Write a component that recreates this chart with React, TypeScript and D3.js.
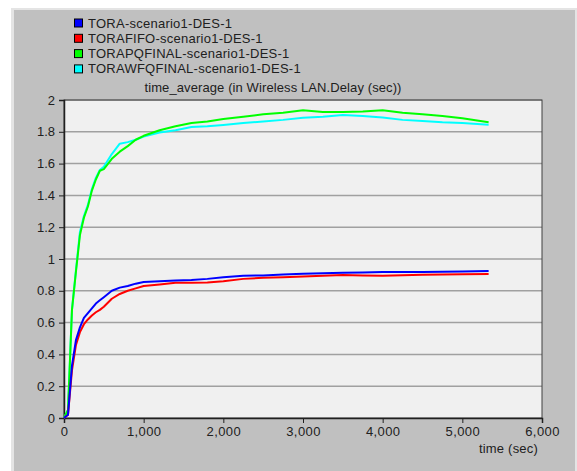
import React, { useEffect, useRef } from "react";
import * as d3 from "d3";

const times = [0, 50, 100, 150, 200, 250, 300, 350, 400, 450, 500, 600, 700, 800, 900, 1000, 1200, 1400, 1600, 1800, 2000, 2250, 2500, 2750, 3000, 3250, 3500, 3750, 4000, 4250, 4500, 4750, 5000, 5330];

const toraValues = [0, 0.02, 0.33, 0.49, 0.57, 0.63, 0.66, 0.69, 0.72, 0.74, 0.76, 0.8, 0.82, 0.83, 0.845, 0.855, 0.86, 0.865, 0.868, 0.875, 0.885, 0.895, 0.897, 0.903, 0.907, 0.91, 0.913, 0.915, 0.918, 0.918, 0.918, 0.92, 0.922, 0.925];
const fifoValues = [0, 0.02, 0.3, 0.46, 0.54, 0.59, 0.62, 0.645, 0.665, 0.68, 0.7, 0.75, 0.78, 0.8, 0.815, 0.83, 0.84, 0.85, 0.85, 0.852, 0.86, 0.875, 0.882, 0.885, 0.89, 0.895, 0.899, 0.897, 0.895, 0.898, 0.901, 0.902, 0.904, 0.906];
const pqValues = [0, 0.05, 0.68, 0.92, 1.15, 1.26, 1.33, 1.43, 1.5, 1.555, 1.565, 1.63, 1.675, 1.71, 1.75, 1.775, 1.81, 1.835, 1.855, 1.865, 1.88, 1.895, 1.91, 1.92, 1.935, 1.925, 1.925, 1.927, 1.935, 1.92, 1.91, 1.9, 1.885, 1.86];
const wfqValues = [0, 0.05, 0.68, 0.93, 1.17, 1.27, 1.34, 1.44, 1.51, 1.56, 1.58, 1.66, 1.725, 1.735, 1.75, 1.77, 1.795, 1.81, 1.83, 1.835, 1.843, 1.855, 1.865, 1.875, 1.888, 1.895, 1.905, 1.9, 1.89, 1.875, 1.868, 1.86, 1.855, 1.845];

const seriesNames = ["TORA-scenario1-DES-1", "TORAFIFO-scenario1-DES-1", "TORAPQFINAL-scenario1-DES-1", "TORAWFQFINAL-scenario1-DES-1"];
const seriesColors = ["#0000ff", "#ff0000", "#00ff00", "#00ffff"];
const seriesValues = [toraValues, fifoValues, pqValues, wfqValues];
const drawOrder = [3, 2, 1, 0];

const yTicks = [0, 0.2, 0.4, 0.6, 0.8, 1, 1.2, 1.4, 1.6, 1.8, 2];
const xTicks = [0, 1000, 2000, 3000, 4000, 5000, 6000];

const App = () => {
  const ref = useRef<SVGSVGElement>(null);
  const width = 577,
    height = 471;
  const left = 64,
    right = 542,
    top = 100,
    bottom = 418;

  useEffect(() => {
    const svg = d3.select(ref.current);
    svg.selectAll("*").remove();
    const font = "'Liberation Sans', Arial, sans-serif";

    // panel
    svg.append("rect").attr("x", 11).attr("y", 8).attr("width", width - 11).attr("height", height - 8).attr("fill", "#e4e4e4");
    svg.append("rect").attr("x", 14).attr("y", 10).attr("width", 561).attr("height", height - 10).attr("fill", "#c0c0c0");

    const x = d3.scaleLinear().domain([0, 6000]).range([left, right]);
    const y = d3.scaleLinear().domain([0, 2]).range([bottom, top]);

    svg.append("rect").attr("x", left).attr("y", top).attr("width", right - left).attr("height", bottom - top).attr("fill", "#f0f0f0");

    // grid
    svg
      .append("g")
      .selectAll("line")
      .data(yTicks.slice(1))
      .enter()
      .append("line")
      .attr("x1", left)
      .attr("x2", right)
      .attr("y1", (d) => y(d))
      .attr("y2", (d) => y(d))
      .attr("stroke", "#a0a0a0")
      .attr("stroke-width", 1.5);

    // frame
    svg.append("rect").attr("x", left).attr("y", top).attr("width", right - left).attr("height", bottom - top).attr("fill", "none").attr("stroke", "#404040").attr("stroke-width", 1);

    // y axis
    const yAxis = svg
      .append("g")
      .attr("transform", `translate(${left},0)`)
      .call(d3.axisLeft(y).tickValues(yTicks).tickSize(5).tickPadding(4).tickFormat(d3.format("~g") as any));
    yAxis.select(".domain").attr("stroke", "#202020").attr("stroke-width", 1.5);
    yAxis.selectAll(".tick line").attr("stroke", "#202020");
    yAxis.selectAll(".tick text").attr("fill", "#202020").style("font-family", font).style("font-size", "13px");

    // x axis
    const xAxis = svg
      .append("g")
      .attr("transform", `translate(0,${bottom})`)
      .call(d3.axisBottom(x).tickValues(xTicks).tickSize(5).tickPadding(4).tickFormat(d3.format(",")));
    xAxis.select(".domain").attr("stroke", "#202020").attr("stroke-width", 1.5);
    xAxis.selectAll(".tick line").attr("stroke", "#202020");
    xAxis.selectAll(".tick text").attr("fill", "#202020").style("font-family", font).style("font-size", "13px").style("letter-spacing", "0.4px");

    svg.append("text").attr("x", 538).attr("y", 453).attr("text-anchor", "end").attr("fill", "#202020").style("font-family", font).style("font-size", "13px").style("letter-spacing", "0.2px").text("time (sec)");

    svg.append("text").attr("x", 273).attr("y", 92).attr("text-anchor", "middle").attr("fill", "#202020").style("font-family", font).style("font-size", "13px").style("letter-spacing", "0.1px").text("time_average (in Wireless LAN.Delay (sec))");

    // lines
    const line = d3
      .line<number>()
      .x((d, i) => x(times[i]))
      .y((d) => y(d));
    drawOrder.forEach((s) => {
      svg
        .append("path")
        .attr("d", line(seriesValues[s]))
        .attr("fill", "none")
        .attr("stroke", seriesColors[s])
        .attr("stroke-width", 2)
        .attr("stroke-linejoin", "round");
    });

    // legend
    const legend = svg.append("g");
    seriesNames.forEach((name, i) => {
      const ly = 23 + i * 15.3;
      legend.append("rect").attr("x", 74.5).attr("y", ly - 4).attr("width", 8).attr("height", 8).attr("fill", seriesColors[i]).attr("stroke", "#000").attr("stroke-width", 1);
      legend.append("text").attr("x", 88).attr("y", ly).attr("dy", "0.35em").attr("fill", "#202020").style("font-family", font).style("font-size", "13px").style("letter-spacing", "0.25px").text(name);
    });
  }, []);

  return <svg ref={ref} width={width} height={height} style={{ position: "absolute", left: 0, top: 0 }} />;
};

export default App;
